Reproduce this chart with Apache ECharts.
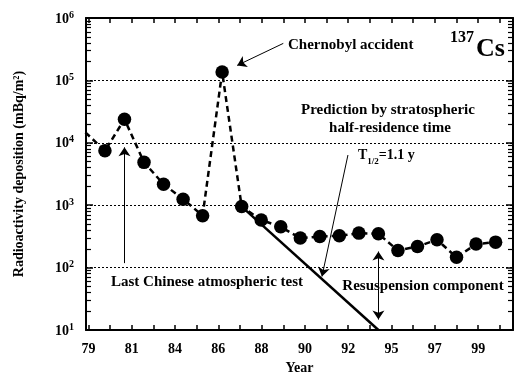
<!DOCTYPE html>
<html>
<head>
<meta charset="utf-8">
<script src="https://cdn.jsdelivr.net/npm/echarts@6/dist/echarts.min.js"></script>
<style>
    html, body { margin: 0; padding: 0; background: #fff; }
    #dataShow { width: 516px; height: 374px; }
</style>
</head>
<body>
<div id="dataShow"></div>
<script>
// 137Cs yearly deposition
var years = [1980, 1981, 1982, 1983, 1984, 1985, 1986, 1987, 1988, 1989, 1990,
             1991, 1992, 1993, 1994, 1995, 1996, 1997, 1998, 1999, 2000];
var deposition = [7450, 23900, 4860, 2170, 1250, 680, 136000, 950, 580, 450, 297,
                  315, 323, 357, 348, 188, 218, 279, 146, 238, 256];
// the dashed line comes in from beyond the left frame
var leadIn = [1979, 14700];
// prediction by stratospheric half-residence time (T1/2 = 1.1 y)
var predYears = [1987, 1994];
var predValues = [950, 10];
// tick labels printed under the axis (every second tick)
var tickLabels = ['79', '81', '84', '86', '88', '90', '92', '95', '97', '99'];
var tickCount = 20;
// decades on the log axis
var yMin = 10, yMax = 1000000;

var serif = 'Liberation Serif';
var majorTicks = [];
for (var i = 0; i < tickCount; i++) majorTicks.push(i);
var labelTicks = [];
for (var i = 0; i < tickLabels.length; i++) labelTicks.push(i * 2);
// minor ticks 2..9 of each decade, in log10 units
var minorLog = [];
for (var d = yMin; d < yMax; d *= 10) {
    for (var m = 2; m <= 9; m++) minorLog.push(Math.log10(d * m));
}

var lineData = [{value: leadIn, symbol: 'none'}];
for (var i = 0; i < years.length; i++) lineData.push([years[i], deposition[i]]);
var predData = [];
for (var i = 0; i < predYears.length; i++) predData.push([predYears[i], predValues[i]]);

var chart = echarts.init(document.getElementById('dataShow'));

function tickAxis(pos, showLabel) {
    return {
        type: 'value',
        position: pos,
        min: -0.11,
        max: 19.61,
        axisLine: {onZero: false, lineStyle: {color: '#000', width: 2}},
        axisTick: {inside: true, length: 5, customValues: majorTicks, lineStyle: {color: '#000', width: 1.5}},
        axisLabel: {
            show: showLabel,
            customValues: labelTicks,
            margin: 12,
            formatter: function (v) { return tickLabels[Math.round(v / 2)]; },
            color: '#000', fontFamily: serif, fontWeight: 'bold', fontSize: 14
        },
        splitLine: {show: false}
    };
}

function logAxis(pos, opts) {
    var a = {
        type: 'log',
        logBase: 10,
        position: pos,
        min: yMin,
        max: yMax,
        axisLine: {show: true, onZero: false, lineStyle: {color: '#000', width: 2}},
        axisTick: {inside: true, length: 7, lineStyle: {color: '#000', width: 1.5}},
        axisLabel: {show: false},
        splitLine: {show: false}
    };
    return Object.assign(a, opts || {});
}

// axis in log10 units, only used to draw the minor ticks
function minorAxis(pos) {
    return {
        type: 'value',
        position: pos,
        min: Math.log10(yMin),
        max: Math.log10(yMax),
        axisLine: {show: false, onZero: false},
        axisTick: {show: true, inside: true, length: 5, customValues: minorLog, lineStyle: {color: '#000', width: 1.2}},
        axisLabel: {show: false},
        splitLine: {show: false}
    };
}

var option = {
    animation: false,
    grid: {left: 86, right: 3, top: 18, bottom: 44, outerBoundsMode: 'none', containLabel: false},
    xAxis: [
        {type: 'value', min: 1979.03, max: 2000.89, show: false},
        Object.assign(tickAxis('bottom', true), {
            name: 'Year', nameLocation: 'middle', nameGap: 31,
            nameTextStyle: {color: '#000', fontFamily: serif, fontWeight: 'bold', fontSize: 14}
        }),
        tickAxis('top', false)
    ],
    yAxis: [
        logAxis('left', {
            name: 'Radioactivity deposition (mBq/m²)',
            nameLocation: 'middle',
            nameGap: 60,
            nameTextStyle: {color: '#000', fontFamily: serif, fontWeight: 'bold', fontSize: 14},
            axisLabel: {
                margin: 12,
                formatter: function (v) {
                    return '{b|10}{s|' + Math.round(Math.log10(v)) + '}';
                },
                rich: {
                    b: {color: '#000', fontFamily: serif, fontWeight: 'bold', fontSize: 14, lineHeight: 16, verticalAlign: 'bottom'},
                    s: {color: '#000', fontFamily: serif, fontWeight: 'bold', fontSize: 10, lineHeight: 16, verticalAlign: 'top', padding: [0, 0, 6, 0]}
                }
            },
            splitLine: {show: true, lineStyle: {color: '#000', width: 1, type: [2, 2]}}
        }),
        logAxis('right'),
        minorAxis('left'),
        minorAxis('right')
    ],
    series: [
        {
            // prediction line
            type: 'line',
            xAxisIndex: 0,
            yAxisIndex: 0,
            data: predData,
            symbol: 'none',
            lineStyle: {color: '#000', width: 2.5},
            silent: true
        },
        {
            type: 'line',
            xAxisIndex: 0,
            yAxisIndex: 0,
            data: lineData,
            clip: true,
            symbol: 'circle',
            symbolSize: 13.5,
            itemStyle: {color: '#000'},
            lineStyle: {color: '#000', width: 2.5, type: [6, 4]},
            silent: true,
            markLine: {
                silent: true,
                symbolSize: 9,
                label: {show: false},
                lineStyle: {color: '#000', width: 1, type: 'solid'},
                data: [
                    // Chernobyl accident
                    [{coord: [1989.13, 392000], symbol: 'none'}, {coord: [1986.77, 174000], symbol: 'arrow'}],
                    // last Chinese atmospheric test
                    [{coord: [1981, 118], symbol: 'none'}, {coord: [1981, 8450], symbol: 'arrow'}],
                    // T1/2 pointer
                    [{coord: [1992.44, 6370], symbol: 'none'}, {coord: [1991.11, 72], symbol: 'arrow'}],
                    // resuspension component
                    [{coord: [1994, 14.7], symbol: 'arrow'}, {coord: [1994, 181], symbol: 'arrow'}]
                ]
            }
        }
    ],
    graphic: [
        {type: 'text', x: 288, y: 45, style: {text: 'Chernobyl accident', fill: '#000', font: 'bold 15px "Liberation Serif"', verticalAlign: 'middle'}},
        {type: 'text', x: 474, y: 38, style: {text: '137', fill: '#000', font: 'bold 16px "Liberation Serif"', align: 'right', verticalAlign: 'middle'}},
        {type: 'text', x: 476, y: 49, style: {text: 'Cs', fill: '#000', font: 'bold 26px "Liberation Serif"', verticalAlign: 'middle'}},
        {type: 'text', x: 388, y: 110, style: {text: 'Prediction by stratospheric', fill: '#000', font: 'bold 15px "Liberation Serif"', align: 'center', verticalAlign: 'middle'}},
        {type: 'text', x: 390, y: 128, style: {text: 'half-residence time', fill: '#000', font: 'bold 15px "Liberation Serif"', align: 'center', verticalAlign: 'middle'}},
        {type: 'text', x: 358, y: 157, style: {
            text: '{t|T}{s|1/2}{t|=1.1 y}', verticalAlign: 'middle',
            rich: {
                t: {fill: '#000', fontFamily: serif, fontWeight: 'bold', fontSize: 14, lineHeight: 18, verticalAlign: 'top'},
                s: {fill: '#000', fontFamily: serif, fontWeight: 'bold', fontSize: 9, lineHeight: 18, verticalAlign: 'bottom'}
            }
        }},
        {type: 'text', x: 207, y: 282, style: {text: 'Last Chinese atmospheric test', fill: '#000', font: 'bold 15px "Liberation Serif"', align: 'center', verticalAlign: 'middle'}},
        {type: 'text', x: 423, y: 286, style: {text: 'Resuspension component', fill: '#000', font: 'bold 15px "Liberation Serif"', align: 'center', verticalAlign: 'middle'}}
    ]
};
chart.setOption(option);
</script>
</body>
</html>
